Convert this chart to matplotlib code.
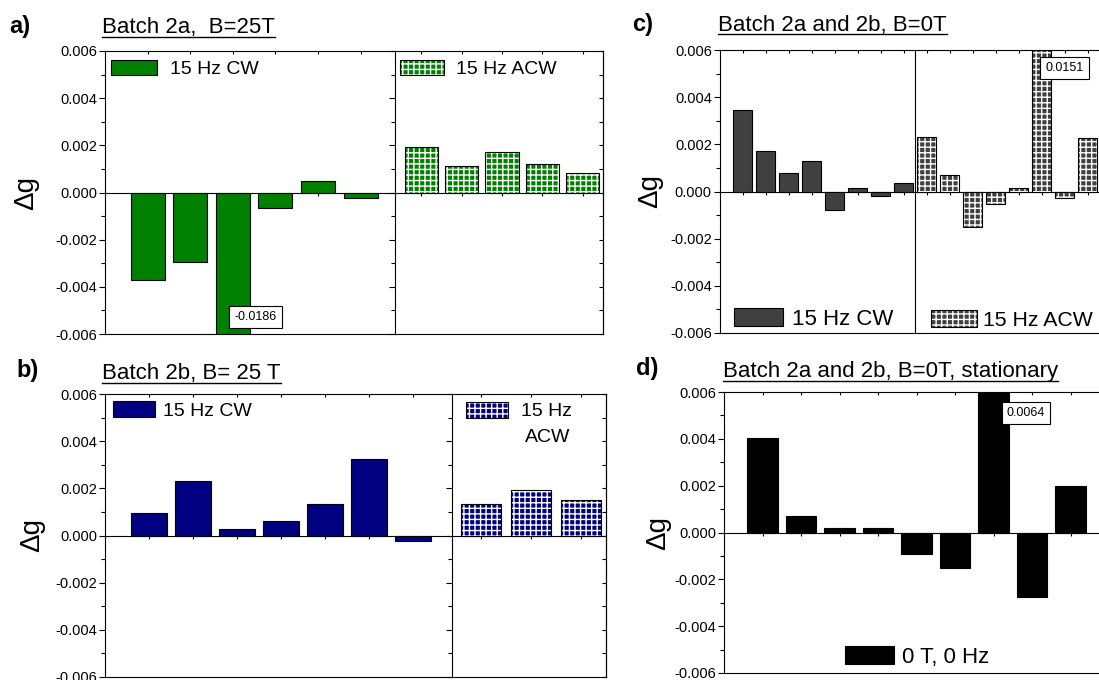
import numpy as np
import matplotlib.pyplot as plt
from matplotlib.patches import Patch
from matplotlib.lines import Line2D
from matplotlib.ticker import MultipleLocator, FormatStrFormatter
from matplotlib.transforms import blended_transform_factory

plt.rcParams['font.family'] = ['Liberation Sans', 'DejaVu Sans']
plt.rcParams['axes.unicode_minus'] = False
plt.rcParams['hatch.linewidth'] = 1.0

# a) batch 2a, B = 25 T
a_cw = [-0.00372, -0.00294, -0.0186, -0.00064, 0.00048, -0.00025]
a_acw = [0.00193, 0.00113, 0.00172, 0.00121, 0.00083]
# b) batch 2b, B = 25 T
b_cw = [0.00094, 0.00232, 0.00028, 0.00062, 0.00134, 0.00325, -0.00025]
b_acw = [0.00133, 0.00192, 0.00150]
# c) batch 2a and 2b, B = 0 T
c_cw = [0.00346, 0.00173, 0.00079, 0.0013, -0.00079, 0.00013, -0.00017, 0.00037]
c_acw = [0.00233, 0.00068, -0.00151, -0.00052, 0.00016, 0.0151, -0.00027, 0.00228]
# d) stationary, 0 T 0 Hz
d_vals = [0.00402, 0.00072, 0.00018, 0.00018, -0.00092, -0.0015, 0.0064, -0.00275, 0.002]

W, H = 1099, 680
fig = plt.figure(figsize=(W / 100, H / 100), dpi=100)


def fx(x):
    return x / W


def fy(y):
    return 1 - y / H


def add_axes(l, t, r, b):
    return fig.add_axes([fx(l), fy(b), (r - l) / W, (b - t) / H])


def setup(ax, xs, xlim, labels=True):
    ax.set_xlim(*xlim)
    ax.set_ylim(-0.006, 0.006)
    ax.yaxis.set_major_locator(MultipleLocator(0.002))
    ax.yaxis.set_minor_locator(MultipleLocator(0.001))
    ax.yaxis.set_major_formatter(FormatStrFormatter('%.3f'))
    ax.tick_params(axis='y', which='major', length=4.5, width=0.8, pad=1,
                   labelsize=10.5, labelleft=labels)
    ax.tick_params(axis='y', which='minor', length=3, width=0.8)
    ax.set_xticks(xs)
    ax.tick_params(axis='x', bottom=False, labelbottom=False, top=True,
                   direction='in', length=2.5, width=0.8)
    for s in ax.spines.values():
        s.set_linewidth(0.8)
    zero = ax.secondary_xaxis(0, transform=ax.transData)
    zero.set_xticks(xs)
    zero.tick_params(length=2.5, width=0.8, labelbottom=False)
    zero.spines['bottom'].set_linewidth(0.8)


def right_ticks(ax):
    r = ax.secondary_yaxis('right')
    r.yaxis.set_major_locator(MultipleLocator(0.002))
    r.yaxis.set_minor_locator(MultipleLocator(0.001))
    r.tick_params(which='both', direction='in', length=3, width=0.8, labelright=False)
    r.spines['right'].set_linewidth(0.8)


def ylabel(ax, x_px):
    ax.set_ylabel('Δg', fontsize=20)
    ax.yaxis.set_label_coords(fx(x_px), 0.5,
                              transform=blended_transform_factory(fig.transFigure, ax.transAxes))


def solid_bars(ax, xs, vals, color, width):
    ax.bar(xs, vals, width, color=color, edgecolor='black', linewidth=0.8, zorder=2)


def grid_bars(ax, xs, vals, color, width):
    ax.bar(xs, vals, width, color=color, edgecolor='white', hatch='+++', linewidth=0, zorder=2)
    ax.bar(xs, vals, width, fill=False, edgecolor='black', linewidth=0.8, zorder=2)


def solid(color):
    return Patch(facecolor=color, edgecolor='black', linewidth=0.8)


def grid(color):
    return (Patch(facecolor=color, edgecolor='white', hatch='+++', linewidth=0),
            Patch(fill=False, edgecolor='black', linewidth=0.8))


def legend(handle, label, x, y, loc, size, hl, hh, pad):
    return fig.legend([handle], [label], loc=loc, bbox_to_anchor=(fx(x), fy(y)),
                      bbox_transform=fig.transFigure, frameon=False, borderpad=0,
                      borderaxespad=0, fontsize=size, handlelength=hl,
                      handleheight=hh, handletextpad=pad)


def heading(letter, lx, ly, text, tx, ty, uy):
    fig.text(fx(lx), fy(ly), letter, fontsize=17, fontweight='bold', va='baseline')
    t = fig.text(fx(tx), fy(ty), text, fontsize=16, va='baseline')
    bb = t.get_window_extent(renderer=fig.canvas.get_renderer())
    fig.add_artist(Line2D([bb.x0 / W, bb.x1 / W], [fy(uy), fy(uy)],
                          transform=fig.transFigure, color='black', lw=1.0))


def value_box(ax, x, y, text):
    ax.text(x, y, text, fontsize=9, ha='center', va='center', zorder=5,
            bbox=dict(boxstyle='square,pad=0.4', fc='white', ec='black', lw=0.8))


green, navy, gray = '#008000', '#000080', '#404040'

# ---- a)
ax = add_axes(105.2, 51, 394.6, 334)
xa = np.arange(1, len(a_cw) + 1)
solid_bars(ax, xa, a_cw, green, 0.8)
setup(ax, xa, (0, 6.8))
ax.spines['right'].set_visible(False)
value_box(ax, xa[2] + 0.53, -0.00527, '-0.0186')
ylabel(ax, 39)

ax = add_axes(394.6, 51, 603, 334)
xa2 = np.arange(1, len(a_acw) + 1)
grid_bars(ax, xa2, a_acw, green, 0.82)
setup(ax, xa2, (0.34, 5.5), labels=False)
right_ticks(ax)

legend(solid(green), '15 Hz CW', 110.5, 59.6, 'upper left', 14, 2.37, 0.86, 0.68)
legend(grid(green), '15 Hz ACW', 400, 59.6, 'upper left', 14, 2.27, 0.86, 0.6)
heading('a)', 9, 33.5, 'Batch 2a,  B=25T', 102.4, 33.3, 37)

# ---- b)
ax = add_axes(105.2, 394, 451.6, 677)
xb = np.arange(1, len(b_cw) + 1)
solid_bars(ax, xb, b_cw, navy, 0.82)
setup(ax, xb, (0, 7.88))
ax.spines['right'].set_visible(False)
ylabel(ax, 45)

ax = add_axes(451.6, 394, 606, 677)
xb2 = np.arange(1, len(b_acw) + 1)
grid_bars(ax, xb2, b_acw, navy, 0.81)
setup(ax, xb2, (0.41, 3.5), labels=False)
right_ticks(ax)

legend(solid(navy), '15 Hz CW', 113, 401.3, 'upper left', 14, 2.17, 0.85, 0.4)
legend(grid(navy), '15 Hz', 465.7, 402, 'upper left', 14, 2.2, 0.85, 0.65)
fig.text(fx(525), fy(441.7), 'ACW', fontsize=14, va='baseline')
heading('b)', 16.5, 377.5, 'Batch 2b, B= 25 T', 102.4, 379.3, 382.5)

# ---- c)
ax = add_axes(719.5, 50, 1110.5, 333)
xc = np.arange(1, len(c_cw) + len(c_acw) + 1)
solid_bars(ax, xc[:len(c_cw)], c_cw, gray, 0.83)
grid_bars(ax, xc[len(c_cw):], c_acw, gray, 0.83)
setup(ax, xc, (0, 17))
ax.axvline(len(c_cw) + 0.5, color='black', lw=0.8, zorder=3)
value_box(ax, xc[13] + 1.0, 0.00522, '0.0151')
ylabel(ax, 663)

legend(solid(gray), '15 Hz CW', 734, 330, 'lower left', 16, 2.2, 0.86, 0.4)
legend(grid(gray), '15 Hz ACW', 931, 330, 'lower left', 15.3, 2.16, 0.8, 0.3)
heading('c)', 632.3, 30.5, 'Batch 2a and 2b, B=0T', 718, 30.7, 34)

# ---- d)
ax = add_axes(724, 392, 1109, 673)
xd = np.arange(1, len(d_vals) + 1)
solid_bars(ax, xd, d_vals, 'black', 0.8)
setup(ax, xd, (0, 10))
value_box(ax, xd[6] + 0.84, 0.00511, '0.0064')
ylabel(ax, 671)

legend(solid('black'), '0 T, 0 Hz', 917, 668, 'lower center', 16, 2.2, 0.86, 0.35)
heading('d)', 635.8, 375.5, 'Batch 2a and 2b, B=0T, stationary', 723.3, 377.3, 381)

fig.savefig('out.png', dpi=100)
